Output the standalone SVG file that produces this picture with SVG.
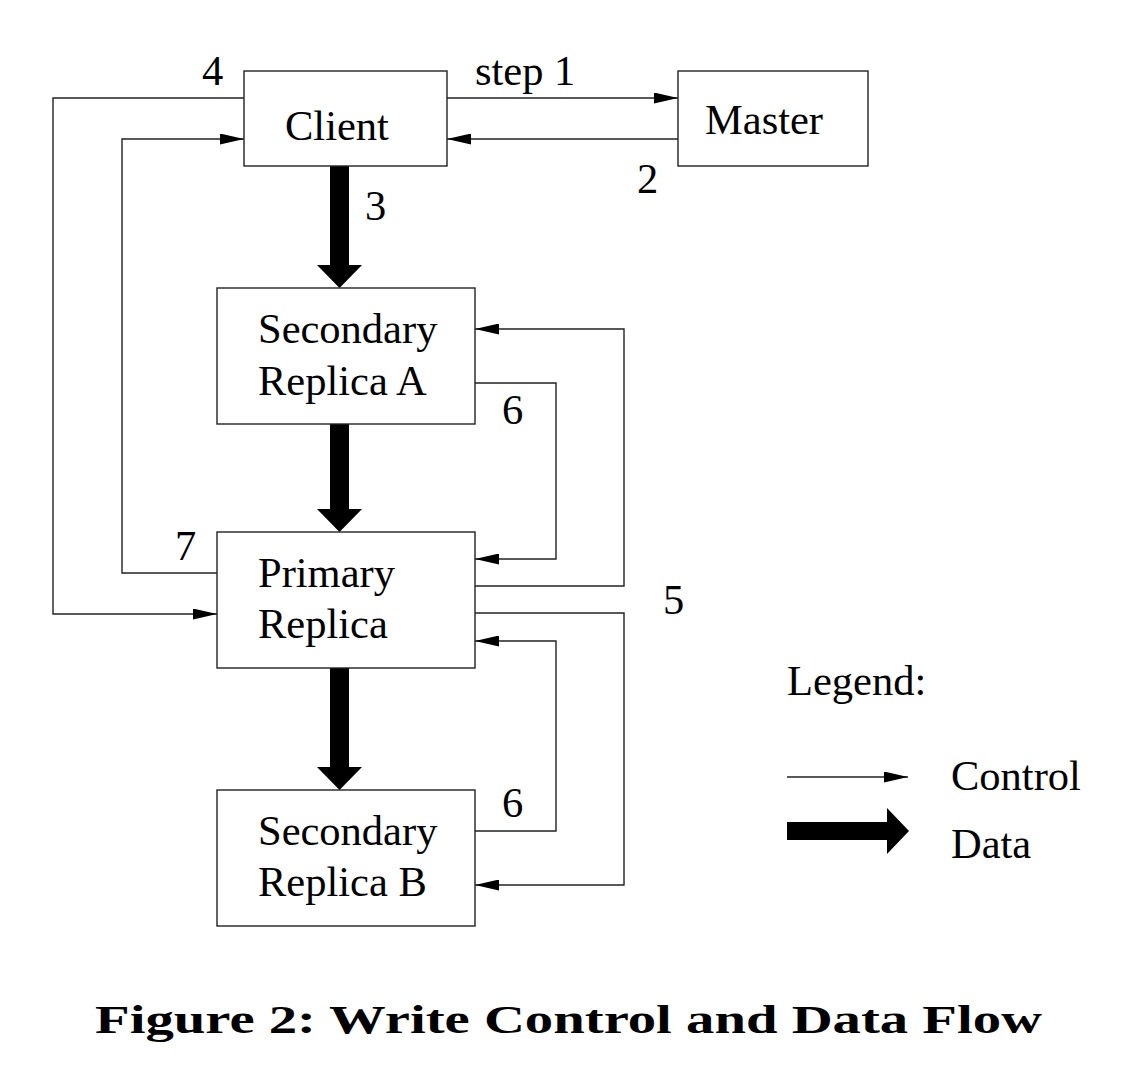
<svg xmlns="http://www.w3.org/2000/svg" width="1128" height="1081" viewBox="0 0 1128 1081">
<style>
.box{fill:#fff;stroke:#222;stroke-width:1.4}
.ln{fill:none;stroke:#222;stroke-width:1.4}
.t{font-family:"Liberation Serif","Times New Roman",serif;font-size:42.5px;fill:#000}
.cap{font-family:"Liberation Serif","Times New Roman",serif;font-size:39px;font-weight:bold;fill:#000}
.thick{fill:#000}
</style>
<defs>
<marker id="ah" viewBox="0 0 24 11" refX="24" refY="5.5" markerWidth="24" markerHeight="11" markerUnits="userSpaceOnUse" orient="auto">
<path d="M0,0 L24,5.5 L0,11 Z" fill="#000"/>
</marker>
</defs>
<rect width="1128" height="1081" fill="#fff"/>
<g id="connectors">
<polyline class="ln" points="447,98 678,98" marker-end="url(#ah)"/>
<polyline class="ln" points="678,139 447,139" marker-end="url(#ah)"/>
<polyline class="ln" points="244,98 53,98 53,614 217,614" marker-end="url(#ah)"/>
<polyline class="ln" points="217,573 122,573 122,139 244,139" marker-end="url(#ah)"/>
<polyline class="ln" points="475,383 556,383 556,559 475,559" marker-end="url(#ah)"/>
<polyline class="ln" points="475,586 624,586 624,329 475,329" marker-end="url(#ah)"/>
<polyline class="ln" points="475,613 624,613 624,885 475,885" marker-end="url(#ah)"/>
<polyline class="ln" points="475,831 556,831 556,641 475,641" marker-end="url(#ah)"/>
<path class="thick" d="M330,166 L349,166 L349,265 L362,265 L339.5,288 L317,265 L330,265 Z"/>
<path class="thick" d="M330,424 L349,424 L349,509 L362,509 L339.5,532 L317,509 L330,509 Z"/>
<path class="thick" d="M330,668 L349,668 L349,767 L362,767 L339.5,790 L317,767 L330,767 Z"/>
<text class="t" x="202" y="85">4</text>
<text class="t" x="475" y="85">step 1</text>
<text class="t" x="637" y="193">2</text>
<text class="t" x="365" y="220">3</text>
<text class="t" x="502" y="424">6</text>
<text class="t" x="175" y="560">7</text>
<text class="t" x="663" y="614">5</text>
<text class="t" x="502" y="817">6</text>
</g>
<g id="client">
<rect class="box" x="244" y="71" width="203" height="95"/>
<text class="t" x="285" y="140">Client</text>
</g>
<g id="master">
<rect class="box" x="678" y="71" width="190" height="95"/>
<text class="t" x="705" y="134">Master</text>
</g>
<g id="secondaryA">
<rect class="box" x="217" y="288" width="258" height="136"/>
<text class="t" x="258" y="343">Secondary</text>
<text class="t" x="258" y="395">Replica A</text>
</g>
<g id="primary">
<rect class="box" x="217" y="532" width="258" height="136"/>
<text class="t" x="258" y="587">Primary</text>
<text class="t" x="258" y="638">Replica</text>
</g>
<g id="secondaryB">
<rect class="box" x="217" y="790" width="258" height="136"/>
<text class="t" x="258" y="845">Secondary</text>
<text class="t" x="258" y="896">Replica B</text>
</g>
<g id="legend">
<text class="t" x="787" y="695">Legend:</text>
<line class="ln" x1="787" y1="777" x2="908" y2="777" marker-end="url(#ah)"/>
<path class="thick" d="M787,822 L887,822 L887,808 L909,831 L887,854 L887,840 L787,840 Z"/>
<text class="t" x="951" y="790">Control</text>
<text class="t" x="951" y="858">Data</text>
</g>
<text class="cap" x="95" y="1033" textLength="947" lengthAdjust="spacingAndGlyphs">Figure 2:  Write Control and Data Flow</text>
</svg>
